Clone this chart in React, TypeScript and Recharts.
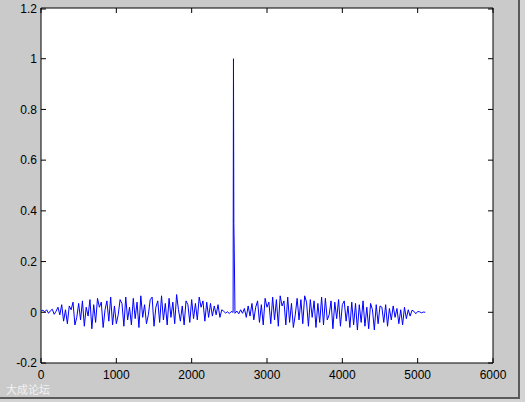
import React from "react";
import {
  LineChart,
  Line,
  XAxis,
  YAxis,
  ReferenceArea,
} from "recharts";

// sample step of the digitised signal
const step = 25;

const signal: number[] = [
  // 0 - 200 quiet start
  0.005, 0.008, 0.002, 0.01, -0.004, 0.006, 0.012, -0.008, 0.004,
  // 225 - 2400 noise
  0.02, -0.01, 0.03, -0.035, 0.01, -0.045, 0.025, 0.01, 0.04, -0.05,
  -0.02, 0.035, -0.03, 0.045, -0.055, 0.02, -0.015, 0.05, -0.065, 0.03,
  -0.04, 0.055, 0.02, 0.04, -0.06, 0.01, 0.045, -0.035, 0.06, -0.05,
  0.025, -0.045, -0.01, 0.05, 0.035, -0.055, 0.06, -0.03, 0.02, -0.05,
  0.055, -0.025, 0.04, -0.06, 0.065, -0.02, 0.03, -0.045, -0.01, 0.05,
  0.06, -0.055, 0.02, 0.045, -0.04, 0.065, -0.03, 0.035, -0.05, 0.055,
  -0.02, 0.04, -0.045, 0.07, 0.01, -0.035, 0.025, -0.05, 0.045, 0.03,
  -0.04, 0.05, -0.025, 0.035, -0.03, 0.06, 0.02, 0.045, -0.035, 0.04,
  -0.02, 0.035, -0.015, 0.025, -0.01, 0.03, -0.02, 0.01,
  // 2425 - 2575 quiet around the peak
  0.004, -0.003, 0.002, -0.005, 0.003, 0, -0.004,
  // 2600 - 2750 ramp up
  0.005, -0.006, 0.01, -0.004, 0.015, -0.02, 0.025,
  // 2775 - 4700 noise
  -0.015, 0.035, -0.03, 0.02, 0.045, -0.04, 0.03, -0.05, 0.055, 0.02,
  0.04, -0.045, 0.06, -0.03, 0.05, -0.055, 0.065, 0.025, 0.045, -0.05,
  0.06, -0.04, 0.035, -0.06, -0.01, 0.055, -0.03, 0.05, -0.045, 0.065,
  0.04, -0.055, 0.05, -0.02, 0.045, -0.06, 0.035, -0.04, 0.06, -0.05,
  0.055, -0.03, -0.01, 0.045, -0.065, 0.04, -0.025, 0.05, -0.055, 0.03,
  0.045, -0.035, 0.025, -0.06, 0.04, -0.05, 0.035, -0.07, 0.03, -0.04,
  0.045, -0.055, 0.02, -0.065, 0.035, 0.01, -0.07, 0.03, -0.045, 0.025,
  0.02, -0.04, 0.03, -0.055, 0.015, -0.03, 0.025, -0.02,
  // 4725 - 5100 tail
  0.015, -0.045, 0.01, -0.05, 0.02, -0.025, 0.01, -0.015, 0.008, 0.004,
  -0.006, 0.003, 0.002, -0.002, 0.001, 0,
];

// the correlation peak
const peakX = [2555, 2560, 2565];
const peakY = [1.0, 0.35, 0.25];

const xTicks = [0, 1000, 2000, 3000, 4000, 5000, 6000];
const yTicks = [-0.2, 0, 0.2, 0.4, 0.6, 0.8, 1, 1.2];

const data = [
  ...signal.map((v, i) => ({ x: i * step, y: v })),
  ...peakX.map((x, i) => ({ x, y: peakY[i] })),
].sort((a, b) => a.x - b.x);

// plot box in pixels (matlab style inward ticks on all four sides)
const TOP = 8;
const BOTTOM = 363;
const LEFT = 41;
const RIGHT = 493;
const TICK = 5;
const font = "Liberation Sans, Arial, sans-serif";

const XTick = (props: any) => {
  const { x, payload } = props;
  return (
    <g>
      <line x1={x} x2={x} y1={BOTTOM} y2={BOTTOM - TICK} stroke="#000" />
      <line x1={x} x2={x} y1={TOP} y2={TOP + TICK} stroke="#000" />
      <text x={x} y={BOTTOM + 7} dy="0.71em" textAnchor="middle" fontSize={12} fontFamily={font} fill="#000">
        {payload.value}
      </text>
    </g>
  );
};

const YTick = (props: any) => {
  const { y, payload } = props;
  return (
    <g>
      <line x1={LEFT} x2={LEFT + TICK} y1={y} y2={y} stroke="#000" />
      <line x1={RIGHT} x2={RIGHT - TICK} y1={y} y2={y} stroke="#000" />
      <text x={LEFT - 4} y={y} dy="0.355em" textAnchor="end" fontSize={12} fontFamily={font} fill="#000">
        {payload.value}
      </text>
    </g>
  );
};

export default function App() {
  return (
    <div
      style={{
        position: "absolute",
        left: 0,
        top: 0,
        width: 525,
        height: 402,
        background: "#d4d4d4",
      }}
    >
      <div
        style={{
          position: "absolute",
          left: 0,
          top: 0,
          width: 518,
          height: 397,
          background: "#cacaca",
          borderRight: "2px solid #5a5a5a",
          borderBottom: "2px solid #5a5a5a",
        }}
      />
      <div style={{ position: "absolute", left: 0, top: 0 }}>
        <LineChart
          width={525}
          height={402}
          data={data}
          margin={{ top: TOP, right: 525 - RIGHT, bottom: 6, left: 0 }}
        >
          <XAxis
            xAxisId="b"
            dataKey="x"
            type="number"
            domain={[0, 6000]}
            ticks={xTicks}
            tickLine={false}
            tickSize={0}
            axisLine={false}
            tick={<XTick />}
            height={33}
          />
          <YAxis
            yAxisId="l"
            type="number"
            domain={[-0.2, 1.2]}
            ticks={yTicks}
            tickLine={false}
            tickSize={0}
            axisLine={false}
            tick={<YTick />}
            width={LEFT}
          />
          <ReferenceArea
            xAxisId="b"
            yAxisId="l"
            x1={0}
            x2={6000}
            y1={-0.2}
            y2={1.2}
            fill="#ffffff"
            fillOpacity={1}
            stroke="#000"
            strokeWidth={1}
          />
          <Line
            xAxisId="b"
            yAxisId="l"
            type="linear"
            dataKey="y"
            stroke="#0000ff"
            strokeWidth={1}
            dot={false}
            isAnimationActive={false}
          />
        </LineChart>
      </div>
      <div
        style={{
          position: "absolute",
          left: 6,
          top: 381,
          fontSize: 11,
          color: "#f2f2f2",
          fontFamily: "Noto Sans CJK SC, sans-serif",
        }}
      >
        大成论坛
      </div>
    </div>
  );
}
